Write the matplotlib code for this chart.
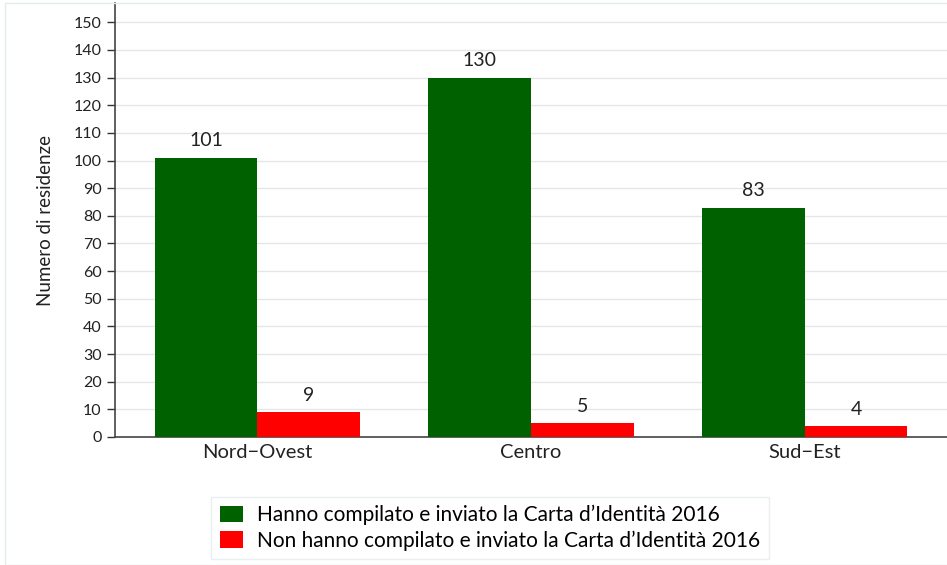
import matplotlib.pyplot as plt
from matplotlib.patches import Rectangle
import numpy as np

regions = ["Nord\u2212Ovest", "Centro", "Sud\u2212Est"]
inviato = [101, 130, 83]
non_inviato = [9, 5, 4]
series_labels = ["Hanno compilato e inviato la Carta d\u2019Identit\u00e0 2016",
                 "Non hanno compilato e inviato la Carta d\u2019Identit\u00e0 2016"]
green = "#006100"
red = "#ff0000"

plt.rcParams['font.family'] = ['Lato', 'DejaVu Sans']

fig = plt.figure(figsize=(9.47, 5.65), dpi=100)
# faint page frame
fig.patches.append(Rectangle((5/947, 0), 1, 1 - 3/565, transform=fig.transFigure,
                             fill=False, edgecolor="#e4ecee", linewidth=1))

ax = fig.add_axes([115/947, 1 - 437/565, 832/947, 434/565])

x = np.arange(len(regions))
w = 0.375
b1 = ax.bar(x - w/2, inviato, w, color=green, label=series_labels[0], zorder=3)
b2 = ax.bar(x + w/2, non_inviato, w, color=red, label=series_labels[1], zorder=3)
for bars in (b1, b2):
    ax.bar_label(bars, padding=6, fontsize=14, color="#222222")

ax.set_xlim(-0.52, 2.52)
ax.set_ylim(0, 157)
ax.set_yticks(range(0, 151, 10))
ax.set_xticks(x)
ax.set_xticklabels(regions, fontsize=14.5, color="#222222")
ax.tick_params(axis="x", length=0, pad=5)
ax.tick_params(axis="y", length=6, color="#333333", labelsize=11.5, labelcolor="#222222", width=1)
ax.yaxis.grid(True, color="#e6e6e6", linewidth=1, zorder=0)
for s in ("top", "right"):
    ax.spines[s].set_visible(False)
for s in ("left", "bottom"):
    ax.spines[s].set_color("#444444")
    ax.spines[s].set_linewidth(1.2)
ax.set_ylabel("Numero di residenze", fontsize=13.5, color="#222222", labelpad=14)

leg = fig.legend(loc="center", bbox_to_anchor=(490/947, 1 - 528/565), fontsize=15,
                 frameon=True, fancybox=False, edgecolor="#e4ecee",
                 handlelength=1.1, handleheight=0.85, handletextpad=0.7,
                 borderpad=0.4, labelspacing=0.25)
leg.get_frame().set_linewidth(1)

plt.savefig("out.png", dpi=100)
